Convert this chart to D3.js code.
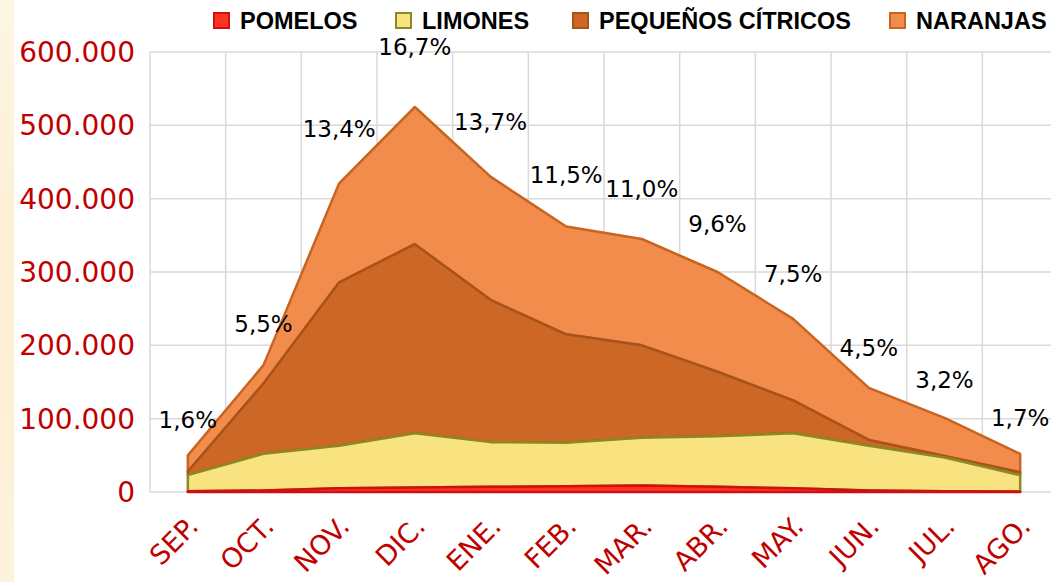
<!DOCTYPE html>
<html>
<head>
<meta charset="utf-8">
<title>Citricos por mes</title>
<script src="https://cdn.jsdelivr.net/npm/d3@7"></script>
<style>
body { margin: 0; background: #fff; }
.grid line { stroke: #d9d9d9; stroke-width: 1.5px; }
</style>
</head>
<body>
<script>
// datos (toneladas)
var meses = ["SEP.", "OCT.", "NOV.", "DIC.", "ENE.", "FEB.", "MAR.", "ABR.", "MAY.", "JUN.", "JUL.", "AGO."];
var pomelos = [1000, 2000, 5000, 6000, 7000, 8000, 9000, 7000, 5000, 2000, 1000, 500];
var limones = [22000, 50000, 58000, 74000, 61000, 59000, 65000, 69000, 75000, 61000, 46000, 22500];
var pequenos = [5000, 96000, 223000, 258000, 194000, 148000, 126000, 88000, 45000, 8000, 2000, 4000];
var naranjas = [22000, 25000, 135000, 187000, 168000, 147000, 145000, 136000, 111000, 71000, 52000, 25000];
var porcentajes = ["1,6%", "5,5%", "13,4%", "16,7%", "13,7%", "11,5%", "11,0%", "9,6%", "7,5%", "4,5%", "3,2%", "1,7%"];
var yTicks = [0, 100000, 200000, 300000, 400000, 500000, 600000];
var series = ["POMELOS", "LIMONES", "PEQUEÑOS CÍTRICOS", "NARANJAS"];

var fills = ["#ff3322", "#f9e380", "#cd6726", "#f28c4c"];
var strokes = ["#d01010", "#8a8a22", "#a8521c", "#c9641f"];

var width = 1051, height = 582;

var svg = d3.select("body").append("svg")
  .attr("width", width).attr("height", height)
  .style("background", "white");

// franja crema a la izquierda
var grad = svg.append("defs").append("linearGradient")
  .attr("id", "crema").attr("x1", 0).attr("y1", 0).attr("x2", 0).attr("y2", 1);
grad.append("stop").attr("offset", "0%").attr("stop-color", "#fdf6e3");
grad.append("stop").attr("offset", "50%").attr("stop-color", "#fcefd2");
grad.append("stop").attr("offset", "100%").attr("stop-color", "#fdf3dc");
svg.append("rect").attr("x", 0).attr("y", 0).attr("width", 14).attr("height", height)
  .attr("fill", "url(#crema)");

var x = d3.scaleBand().domain(meses).range([150, 1058]);
var y = d3.scaleLinear().domain([0, 600000]).range([492, 52]);

var fmt = d3.formatLocale({ decimal: ",", thousands: ".", grouping: [3], currency: ["", ""] }).format(",d");

// rejilla
var grid = svg.append("g").attr("class", "grid");
grid.selectAll(".h").data(yTicks).enter().append("line")
  .attr("x1", 150).attr("x2", 1058)
  .attr("y1", function(d){ return y(d); }).attr("y2", function(d){ return y(d); });
grid.selectAll(".v").data(meses.concat(["fin"])).enter().append("line")
  .attr("x1", function(d, i){ return 150 + i * x.bandwidth(); })
  .attr("x2", function(d, i){ return 150 + i * x.bandwidth(); })
  .attr("y1", 52).attr("y2", 492);

// eje y
svg.append("g").selectAll("text").data(yTicks).enter().append("text")
  .attr("x", 135).attr("y", function(d){ return y(d); })
  .attr("dy", "0.36em")
  .attr("text-anchor", "end")
  .attr("fill", "#c00000")
  .style("font-family", "DejaVu Sans")
  .style("font-size", "28px")
  .text(function(d){ return fmt(d); });

// eje x
svg.append("g").selectAll("text").data(meses).enter().append("text")
  .attr("transform", function(d){
    return "translate(" + (x(d) + x.bandwidth() / 2 + 12) + ",528) rotate(-45)";
  })
  .attr("text-anchor", "end")
  .attr("fill", "#c00000")
  .style("font-family", "DejaVu Sans")
  .style("font-size", "27px")
  .text(function(d){ return d; });

// areas apiladas
var tabla = meses.map(function(m, i){
  return { mes: m, "POMELOS": pomelos[i], "LIMONES": limones[i],
           "PEQUEÑOS CÍTRICOS": pequenos[i], "NARANJAS": naranjas[i] };
});
var stack = d3.stack().keys(series)(tabla);

var cx = function(d){ return x(d.data.mes) + x.bandwidth() / 2; };
var area = d3.area()
  .x(cx)
  .y0(function(d){ return y(d[0]); })
  .y1(function(d){ return y(d[1]); });

svg.append("g").selectAll("path").data(stack.slice().reverse()).enter().append("path")
  .attr("d", area)
  .attr("fill", function(d){ return fills[d.index]; })
  .attr("stroke", function(d){ return strokes[d.index]; })
  .attr("stroke-width", 2.5)
  .attr("stroke-linejoin", "round");

// etiquetas de porcentaje
var capaSuperior = stack[stack.length - 1];
svg.append("g").selectAll("text").data(capaSuperior).enter().append("text")
  .attr("x", cx)
  .attr("y", function(d){
    var h = 492 - y(d[1]);
    return y(d[1]) - (33 + 0.07 * h);
  })
  .attr("dy", "0.36em")
  .attr("text-anchor", "middle")
  .attr("fill", "#000")
  .style("font-family", "DejaVu Sans")
  .style("font-size", "23px")
  .text(function(d, i){ return porcentajes[i]; });

// leyenda
var legX = [213, 395, 572, 889];
var leg = svg.append("g").selectAll("g").data(series).enter().append("g")
  .attr("transform", function(d, i){ return "translate(" + legX[i] + ",12)"; });
leg.append("rect")
  .attr("x", 1).attr("y", 1).attr("width", 15).attr("height", 15)
  .attr("fill", function(d, i){ return fills[i]; })
  .attr("stroke", function(d, i){ return strokes[i]; })
  .attr("stroke-width", 2);
leg.append("text")
  .attr("x", 27).attr("y", 9).attr("dy", "0.36em")
  .attr("fill", "#000")
  .style("font-family", "Liberation Sans")
  .style("font-weight", "bold")
  .style("font-size", "23.5px")
  .text(function(d){ return d; });
</script>
</body>
</html>
